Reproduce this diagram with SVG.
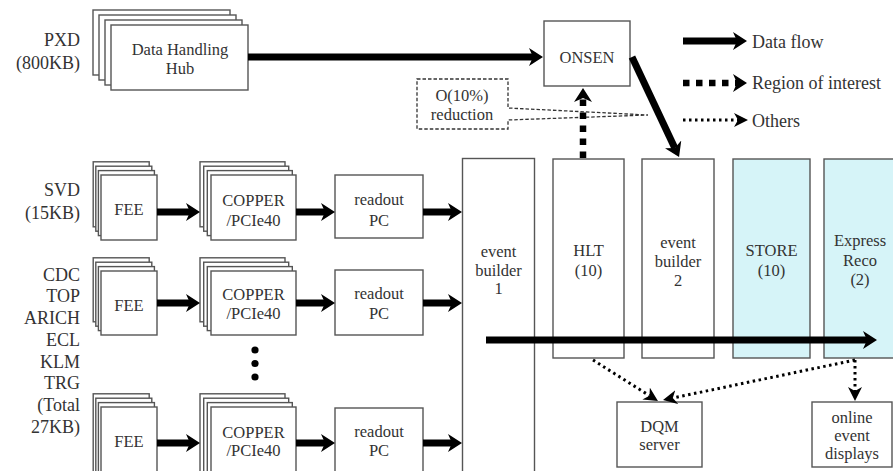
<svg xmlns="http://www.w3.org/2000/svg" width="893" height="471" viewBox="0 0 893 471">
<style>
text{font-family:"Liberation Serif","Times New Roman",serif;fill:#333;}
.lbl{font-size:18px;text-anchor:end;}
.t{font-size:16.5px;text-anchor:middle;}
.lg{font-size:18px;}
.box{fill:#fff;stroke:#555;stroke-width:1.4;}
.cy{fill:#d6f4f8;stroke:#555;stroke-width:1.4;}
.flow{stroke:#000;stroke-width:7;fill:none;marker-end:url(#ah);}
.roi{stroke:#000;stroke-width:6.5;fill:none;stroke-dasharray:6.5 6.5;marker-end:url(#ah);}
.oth{stroke:#000;stroke-width:3;fill:none;stroke-dasharray:2.5 3.5;marker-end:url(#oh);}
</style>
<defs>
<marker id="ah" markerUnits="userSpaceOnUse" markerWidth="14" markerHeight="18" viewBox="0 0 14 18" refX="4" refY="9" orient="auto"><path d="M0,0 L14,9 L0,18 L4,9 z" fill="#000"/></marker>
<marker id="oh" markerUnits="userSpaceOnUse" markerWidth="14" markerHeight="14" viewBox="0 0 14 14" refX="4" refY="7" orient="auto"><path d="M0,0 L14,7 L0,14 L4,7 z" fill="#000"/></marker>
</defs>
<rect width="893" height="471" fill="#fff"/>

<g id="labels">
<text class="lbl" x="80" y="46">PXD</text>
<text class="lbl" x="80" y="69">(800KB)</text>
<text class="lbl" x="80" y="196">SVD</text>
<text class="lbl" x="80" y="219">(15KB)</text>
<text class="lbl" x="80" y="281">CDC</text>
<text class="lbl" x="80" y="302">TOP</text>
<text class="lbl" x="80" y="324">ARICH</text>
<text class="lbl" x="80" y="346">ECL</text>
<text class="lbl" x="80" y="368">KLM</text>
<text class="lbl" x="80" y="389">TRG</text>
<text class="lbl" x="80" y="411">(Total</text>
<text class="lbl" x="80" y="433">27KB)</text>
</g>

<g id="dhh">
<rect class="box" x="93" y="10" width="137" height="65"/>
<rect class="box" x="99" y="15" width="137" height="65"/>
<rect class="box" x="105" y="20" width="137" height="65"/>
<rect class="box" x="111" y="25" width="137" height="65"/>
<text class="t" x="180" y="55">Data Handling</text>
<text class="t" x="180" y="74">Hub</text>
</g>

<g id="onsen">
<rect class="box" x="544" y="21" width="86" height="65"/>
<text class="t" x="587" y="63">ONSEN</text>
</g>

<g id="reduction">
<path d="M417,79 H508 V108 L648,115 L508,120 V129 H417 Z" fill="#fff" stroke="#333" stroke-width="1.3" stroke-dasharray="3.5 2"/>
<text class="t" x="462" y="101">O(10%)</text>
<text class="t" x="462" y="120">reduction</text>
</g>

<g id="fee1">
<rect class="box" x="93.2" y="161.8" width="56" height="65"/>
<rect class="box" x="95.8" y="166.2" width="56" height="65"/>
<rect class="box" x="98.4" y="170.6" width="56" height="65"/>
<rect class="box" x="101" y="175" width="56" height="65"/>
<text class="t" x="129" y="215">FEE</text>
</g>
<g id="copper1">
<rect class="box" x="200" y="161.8" width="85" height="65"/>
<rect class="box" x="203.7" y="166.2" width="85" height="65"/>
<rect class="box" x="207.3" y="170.6" width="85" height="65"/>
<rect class="box" x="211" y="175" width="85" height="65"/>
<text class="t" x="253.5" y="206">COPPER</text>
<text class="t" x="253.5" y="226">/PCIe40</text>
</g>
<g id="readout1">
<rect class="box" x="335" y="175" width="88" height="63"/>
<text class="t" x="379" y="205">readout</text>
<text class="t" x="379" y="226">PC</text>
</g>

<g id="fee2">
<rect class="box" x="93.2" y="257.8" width="56" height="64"/>
<rect class="box" x="95.8" y="262.2" width="56" height="64"/>
<rect class="box" x="98.4" y="266.6" width="56" height="64"/>
<rect class="box" x="101" y="271" width="56" height="64"/>
<text class="t" x="129" y="311">FEE</text>
</g>
<g id="copper2">
<rect class="box" x="200" y="257.8" width="85" height="64"/>
<rect class="box" x="203.7" y="262.2" width="85" height="64"/>
<rect class="box" x="207.3" y="266.6" width="85" height="64"/>
<rect class="box" x="211" y="271" width="85" height="64"/>
<text class="t" x="253.5" y="300">COPPER</text>
<text class="t" x="253.5" y="319">/PCIe40</text>
</g>
<g id="readout2">
<rect class="box" x="335" y="270" width="88" height="65"/>
<text class="t" x="379" y="299">readout</text>
<text class="t" x="379" y="319">PC</text>
</g>

<g id="dots">
<circle cx="255" cy="350" r="3.6" fill="#000"/>
<circle cx="255" cy="363.5" r="3.6" fill="#000"/>
<circle cx="255" cy="377" r="3.6" fill="#000"/>
</g>

<g id="fee3">
<rect class="box" x="93.2" y="393.8" width="56" height="90"/>
<rect class="box" x="95.8" y="398.2" width="56" height="90"/>
<rect class="box" x="98.4" y="402.6" width="56" height="90"/>
<rect class="box" x="101" y="407" width="56" height="90"/>
<text class="t" x="129" y="447">FEE</text>
</g>
<g id="copper3">
<rect class="box" x="200" y="393.8" width="85" height="90"/>
<rect class="box" x="203.7" y="398.2" width="85" height="90"/>
<rect class="box" x="207.3" y="402.6" width="85" height="90"/>
<rect class="box" x="211" y="407" width="85" height="90"/>
<text class="t" x="253.5" y="438">COPPER</text>
<text class="t" x="253.5" y="456">/PCIe40</text>
</g>
<g id="readout3">
<rect class="box" x="335" y="408" width="88" height="90"/>
<text class="t" x="379" y="437">readout</text>
<text class="t" x="379" y="456">PC</text>
</g>

<g id="eb1">
<rect class="box" x="462.5" y="158.5" width="72" height="340"/>
<text class="t" x="498.5" y="257">event</text>
<text class="t" x="498.5" y="276">builder</text>
<text class="t" x="498.5" y="294">1</text>
</g>
<g id="hlt">
<rect class="box" x="553" y="159" width="71" height="199"/>
<text class="t" x="588.5" y="256">HLT</text>
<text class="t" x="588.5" y="276">(10)</text>
</g>
<g id="eb2">
<rect class="box" x="642" y="159" width="72" height="199"/>
<text class="t" x="678" y="248">event</text>
<text class="t" x="678" y="267">builder</text>
<text class="t" x="678" y="286">2</text>
</g>
<g id="store">
<rect class="cy" x="733" y="159" width="77" height="199"/>
<text class="t" x="771.5" y="256">STORE</text>
<text class="t" x="771.5" y="276">(10)</text>
</g>
<g id="express">
<rect class="cy" x="824" y="159" width="80" height="199"/>
<text class="t" x="860" y="246">Express</text>
<text class="t" x="860" y="266">Reco</text>
<text class="t" x="860" y="285">(2)</text>
</g>
<g id="dqm">
<rect class="box" x="617" y="402" width="85" height="65"/>
<text class="t" x="659.5" y="432">DQM</text>
<text class="t" x="659.5" y="450">server</text>
</g>
<g id="displays">
<rect class="box" x="812" y="402" width="80" height="65"/>
<text class="t" x="852" y="423">online</text>
<text class="t" x="852" y="441">event</text>
<text class="t" x="852" y="459">displays</text>
</g>

<g id="connectors">
<line class="flow" x1="248" y1="57" x2="533" y2="57"/>
<line class="flow" x1="632" y1="57" x2="674.8" y2="148"/>
<line class="roi" x1="583" y1="158" x2="583" y2="98"/>
<line class="flow" x1="157" y1="212" x2="190" y2="212"/>
<line class="flow" x1="296" y1="212" x2="325" y2="212"/>
<line class="flow" x1="423" y1="212" x2="452" y2="212"/>
<line class="flow" x1="157" y1="303" x2="190" y2="303"/>
<line class="flow" x1="296" y1="303" x2="325" y2="303"/>
<line class="flow" x1="423" y1="303" x2="452" y2="303"/>
<line class="flow" x1="157" y1="443" x2="190" y2="443"/>
<line class="flow" x1="296" y1="443" x2="325" y2="443"/>
<line class="flow" x1="423" y1="443" x2="452" y2="443"/>
<line class="flow" x1="486" y1="340" x2="867" y2="340"/>
<line class="oth" x1="593" y1="360" x2="649.5" y2="395.7"/>
<line class="oth" x1="855" y1="360" x2="672.8" y2="398"/>
<line class="oth" x1="855" y1="360" x2="855" y2="391"/>
</g>

<g id="legend">
<line class="flow" x1="683" y1="41" x2="737" y2="41"/>
<text class="lg" x="752" y="48">Data flow</text>
<line class="roi" x1="683" y1="83" x2="737" y2="83"/>
<text class="lg" x="752" y="89">Region of interest</text>
<line class="oth" x1="683" y1="120" x2="738" y2="120"/>
<text class="lg" x="752" y="127">Others</text>
</g>
</svg>
